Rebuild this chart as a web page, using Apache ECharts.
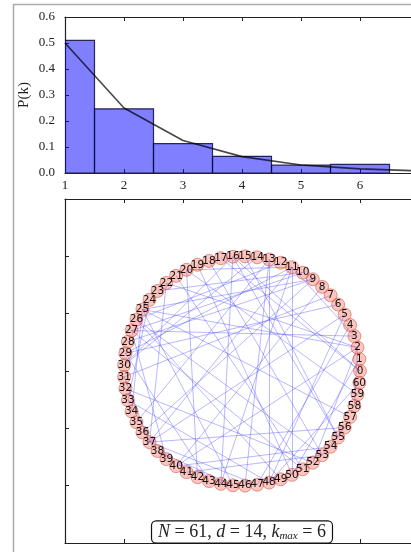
<!DOCTYPE html>
<html><head><meta charset="utf-8">
<script src="https://cdn.jsdelivr.net/npm/echarts@6/dist/echarts.min.js"></script>
<style>html,body{margin:0;padding:0;background:#fff}#c{width:411px;height:552px}</style>
</head><body><div id="c"></div>
<script>
// ---- data ----
const degreeK = [1, 2, 3, 4, 5, 6];
const degreeFreq = [0.51, 0.247, 0.113, 0.064, 0.03, 0.033];
const fitK = [1, 2, 3, 4, 5, 6, 7];
const fitP = [0.5, 0.25, 0.125, 0.063, 0.031, 0.016, 0.008];
const yTickLabels = ['0.0', '0.1', '0.2', '0.3', '0.4', '0.5', '0.6'];
const xTickLabels = ['1', '2', '3', '4', '5', '6', '7'];
const nodeCount = 61;
const nodeLabels = Array.from({length: nodeCount}, (_, i) => String(i));
const edges = [
  [11,37],[11,44],[11,29],[11,50],[11,3],[11,20],
  [37,5],[37,56],[37,22],[37,47],[37,31],
  [44,16],[16,30],[16,55],[16,0],
  [3,27],[27,51],[27,39],[27,10],
  [5,48],[48,13],[48,33],[48,60],
  [22,2],[2,25],[2,40],[2,52],[2,58],
  [25,9],[25,45],[25,34],[25,57],
  [56,53],[53,26],[53,18],[53,41],
  [29,43],[29,6],[50,1],[50,19],[20,42],[20,59],
  [13,35],[13,46],[40,8],[40,54],[9,28],[9,36],[26,12],[26,49],
  [47,4],[31,7],[30,14],[55,15],[0,17],[51,21],[10,23],[33,24],[52,32],[45,38]
];
const statN = 61, statD = 14, statKmax = 6;
// circular layout of the network, in the lower panel's data units
const layoutCenter = [4, 3];
const layoutRadius = 2;
const binWidth = 1;

const nodes = nodeLabels.map((name, i) => {
  const a = 2 * Math.PI * i / nodeCount;
  return {name: name, value: [layoutCenter[0] + layoutRadius * Math.cos(a), layoutCenter[1] + layoutRadius * Math.sin(a)]};
});
const links = edges.map(e => ({source: e[0], target: e[1]}));

const serif = 'Liberation Serif';
const axisLine = {show: true, onZero: false, lineStyle: {color: '#222', width: 1.2}};
const tickIn = {show: true, inside: true, length: 4, lineStyle: {color: '#222', width: 1}};

function xAx(grid, pos, labels) {
  return {
    type: 'value', gridIndex: grid, position: pos, min: 1, max: 7, interval: 1,
    axisLine: axisLine, axisTick: tickIn, splitLine: {show: false},
    axisLabel: labels ? {show: true, margin: 6, fontFamily: serif, fontSize: 13, color: '#222',
      formatter: v => xTickLabels[Math.round(v) - 1]} : {show: false}
  };
}

const chart = echarts.init(document.getElementById('c'), null, {renderer: 'canvas'});
chart.setOption({
  animation: false,
  backgroundColor: '#fff',
  grid: [
    {left: 65, top: 17, right: -8, height: 156, containLabel: false, outerBoundsMode: 'none'},
    {left: 65, top: 199, right: -8, bottom: 9, containLabel: false, outerBoundsMode: 'none'}
  ],
  xAxis: [xAx(0, 'bottom', true), xAx(0, 'top', false), xAx(1, 'bottom', false), xAx(1, 'top', false)],
  yAxis: [
    {type: 'value', gridIndex: 0, min: 0, max: 0.6, interval: 0.1,
     name: 'P(k)', nameLocation: 'middle', nameGap: 33, nameRotate: 90, nameMoveOverlap: false,
     nameTextStyle: {fontFamily: serif, fontSize: 15, color: '#222'},
     axisLine: axisLine, axisTick: tickIn, splitLine: {show: false},
     axisLabel: {margin: 10, fontFamily: serif, fontSize: 13, color: '#222',
       formatter: v => yTickLabels[Math.round(v * 10)]}},
    {type: 'value', gridIndex: 1, min: 0, max: 6, interval: 1,
     axisLine: axisLine, axisTick: tickIn, splitLine: {show: false}, axisLabel: {show: false}}
  ],
  series: [
    {
      type: 'custom', xAxisIndex: 0, yAxisIndex: 0, clip: true, z: 2,
      data: degreeK.map((k, i) => [k, degreeFreq[i]]),
      encode: {x: 0, y: 1},
      renderItem: function (params, api) {
        const k = api.value(0), h = api.value(1);
        const p0 = api.coord([k - binWidth / 2, h]);
        const p1 = api.coord([k + binWidth / 2, 0]);
        return {type: 'rect', shape: {x: p0[0], y: p0[1], width: p1[0] - p0[0], height: p1[1] - p0[1]},
          style: {fill: 'rgba(0,0,255,0.5)', stroke: 'rgba(10,10,60,0.85)', lineWidth: 1.2}};
      }
    },
    {
      type: 'line', xAxisIndex: 0, yAxisIndex: 0, z: 3, symbol: 'none', clip: true,
      data: fitK.map((k, i) => [k, fitP[i]]),
      lineStyle: {color: 'rgba(0,0,0,0.72)', width: 1.6}
    },
    {
      type: 'graph', coordinateSystem: 'cartesian2d', xAxisIndex: 2, yAxisIndex: 1,
      data: nodes, links: links, symbol: 'circle', symbolSize: 13,
      itemStyle: {color: 'rgba(245,90,70,0.35)', borderColor: 'rgba(190,50,40,0.45)', borderWidth: 1},
      lineStyle: {color: 'rgba(40,40,255,0.33)', width: 1, opacity: 1, curveness: 0},
      label: {show: true, position: 'inside', formatter: '{b}', fontSize: 10.5, fontFamily: 'DejaVu Sans', color: '#111'},
      emphasis: {disabled: true}
    }
  ],
  graphic: [
    {type: 'rect', shape: {x: 13.5, y: 4.5, width: 600, height: 700}, style: {fill: 'none', stroke: '#aaa', lineWidth: 1.5}, silent: true, z: 10},
    {type: 'text', x: 242, y: 532, z: 20,
     style: {
       text: '{i|N} = ' + statN + ', {i|d} = ' + statD + ', {i|k}{s|max} = ' + statKmax,
       align: 'center', verticalAlign: 'middle',
       fontFamily: 'Liberation Serif', fontSize: 18, fill: '#222',
       backgroundColor: '#fff', borderColor: '#111', borderWidth: 1.2, borderRadius: 4, padding: [1, 6, 1, 6],
       rich: {
         i: {fontFamily: 'Liberation Serif', fontStyle: 'italic', fontSize: 18, fill: '#222', lineHeight: 19},
         s: {fontFamily: 'Liberation Serif', fontStyle: 'italic', fontSize: 11, fill: '#222', lineHeight: 11, verticalAlign: 'bottom'}
       }
     }}
  ]
});
</script></body></html>
